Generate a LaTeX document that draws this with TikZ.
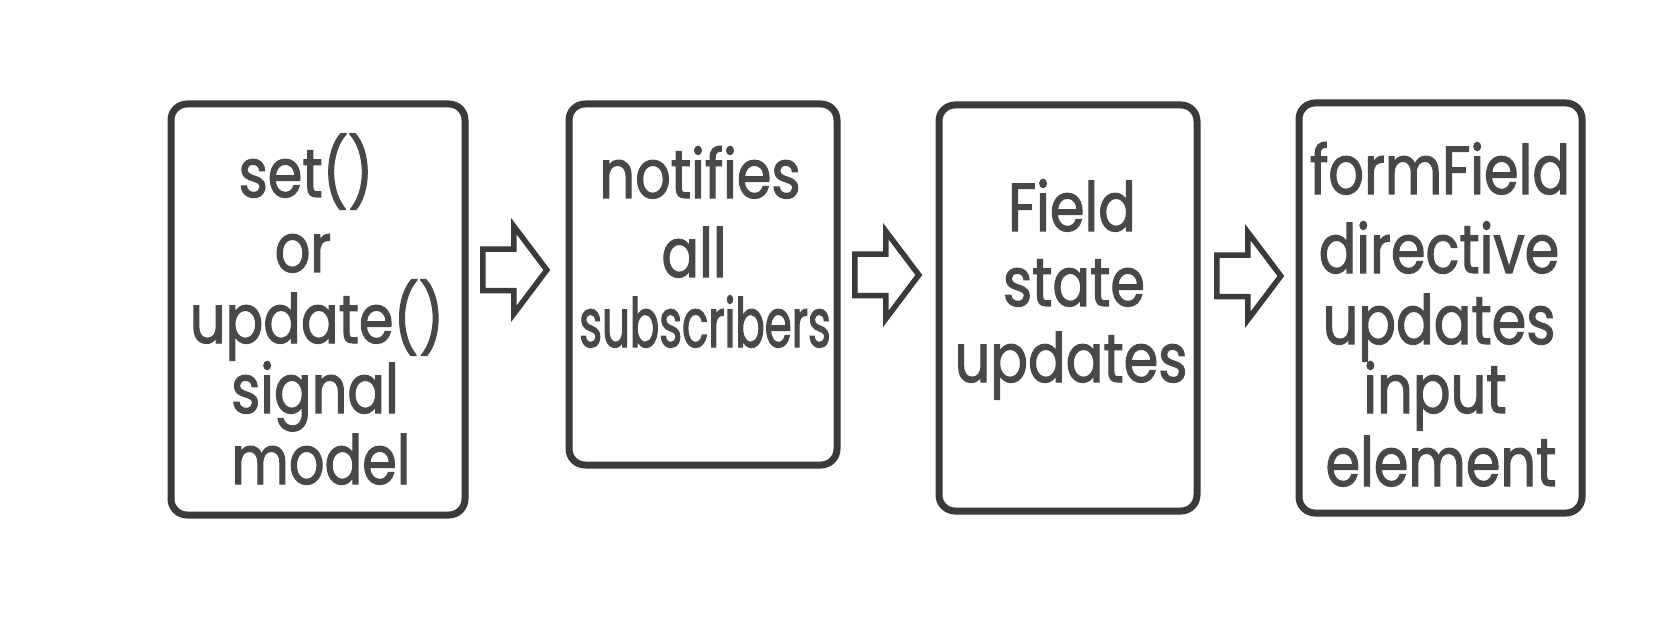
\documentclass[tikz,border=0pt]{standalone}
\usepackage{fontspec}
\setmainfont[FakeStretch=0.82,FakeBold=1.6]{Poppins}
\newfontfamily\narrowfont[FakeStretch=0.64,FakeBold=1.6]{Poppins}
\usetikzlibrary{shapes.arrows}
\definecolor{ink}{HTML}{3A3A3A}
\definecolor{txt}{HTML}{484848}
\begin{document}
\begin{tikzpicture}[x=1pt,y=-1pt,
  box/.style={draw=ink, line width=7pt, rounded corners=16pt, fill=white, inner sep=0pt},
  lbl/.style={anchor=base, text=txt, font=\fontsize{68}{68}\selectfont, inner sep=0pt},
  flow/.style={single arrow, draw=ink, line width=5.5pt, fill=white,
    single arrow head extend=23pt, single arrow tip angle=106,
    minimum height=64pt, inner sep=18pt}]
\useasboundingbox (0,0) rectangle (1668,620);
\fill[white] (0,0) rectangle (1668,620);
% boxes
\node[box, minimum width=294pt, minimum height=411pt] (b1) at (318,309.5) {};
\node[box, minimum width=268pt, minimum height=361pt] (b2) at (703,284.5) {};
\node[box, minimum width=258pt, minimum height=406pt] (b3) at (1068,308) {};
\node[box, minimum width=283pt, minimum height=410pt] (b4) at (1440.5,308) {};
% arrows
\node[flow] (a1) at (507,270) {};
\node[flow] (a2) at (879,275) {};
\node[flow] (a3) at (1241,276) {};
% texts box 1
\node[lbl] (t11) at (306,197) {set()};
\node[lbl] (t12) at (303,272) {or};
\node[lbl] (t13) at (317,343) {update()};
\node[lbl] (t14) at (315,413) {signal};
\node[lbl] (t15) at (321,484) {model};
% box 2
\node[lbl] (t21) at (700,198) {notifies};
\node[lbl] (t22) at (694,277) {all};
\node[lbl, font=\fontsize{68}{68}\narrowfont] (t23) at (705,347) {subscribers};
% box 3
\node[lbl] (t31) at (1072,231) {Field};
\node[lbl] (t32) at (1074,306) {state};
\node[lbl] (t33) at (1071,382) {updates};
% box 4
\node[lbl] (t41) at (1440,194) {formField};
\node[lbl] (t42) at (1439,273) {directive};
\node[lbl] (t43) at (1439,344) {updates};
\node[lbl] (t44) at (1435,413) {input};
\node[lbl] (t45) at (1441,486) {element};
\end{tikzpicture}
\end{document}
